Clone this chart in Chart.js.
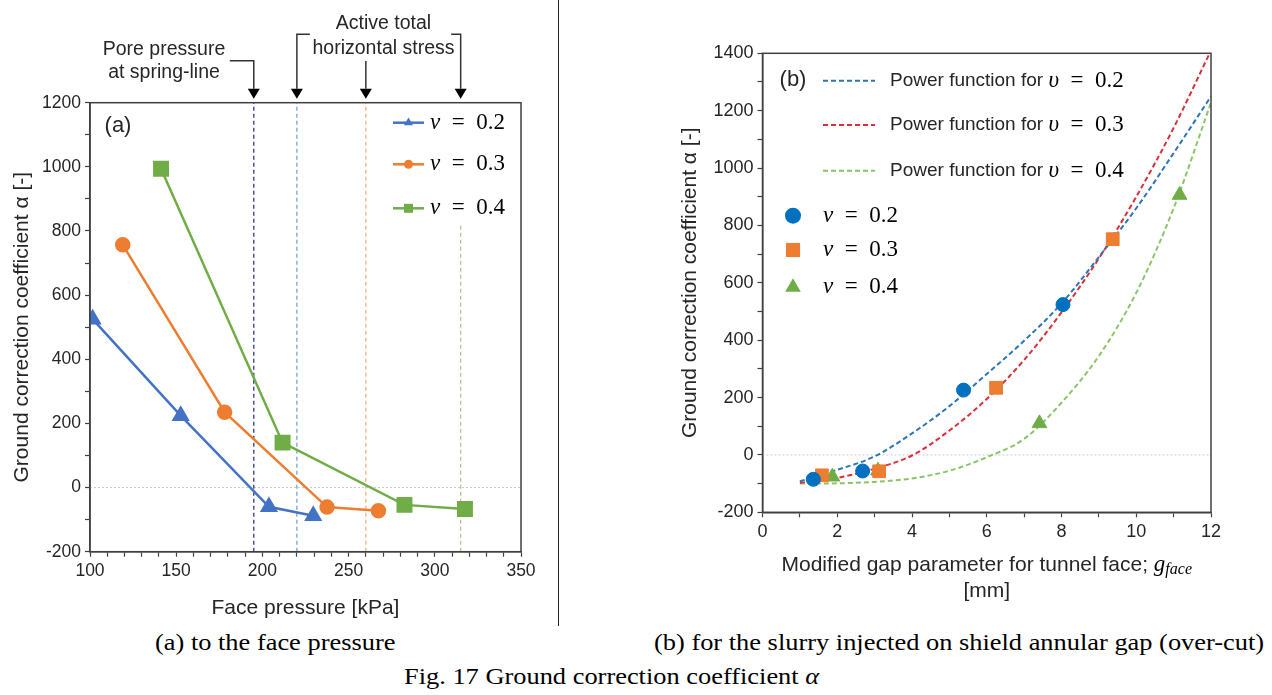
<!DOCTYPE html>
<html>
<head>
<meta charset="utf-8">
<script src="https://cdn.jsdelivr.net/npm/chart.js"></script>
<style>
  * { margin: 0; padding: 0; box-sizing: border-box; }
  body { width: 1272px; height: 695px; background: #fff; position: relative; overflow: hidden; }
  #left { position: absolute; left: 0; top: 0; }
  #right { position: absolute; left: 640px; top: 0; }
  .divider { position: absolute; left: 558px; top: 0; width: 1px; height: 626px; background: #222; }
  .caption {
    position: absolute; white-space: nowrap; color: #000;
    font-family: 'Liberation Serif', 'Times New Roman', serif; font-size: 24px;
    transform-origin: left center; transform: scaleX(1.1);
  }
</style>
</head>
<body>
<canvas id="left" width="556" height="626"></canvas>
<div class="divider"></div>
<canvas id="right" width="632" height="610"></canvas>
<div class="caption" style="left:155px; top:629px;">(a) to the face pressure</div>
<div class="caption" style="left:654px; top:629px;">(b) for the slurry injected on shield annular gap (over-cut)</div>
<div class="caption" style="left:404px; top:663px;">Fig. 17 Ground correction coefficient <i>α</i></div>

<script>
  // (a) ground correction coefficient vs face pressure [kPa]
  const pressNu02 = [101.5, 152.6, 203.8, 229.5];
  const alphaNu02 = [525, 224, -60, -88];
  const pressNu03 = [119, 178.1, 237.5, 267.3];
  const alphaNu03 = [757, 235, -61, -72];
  const pressNu04 = [141.2, 211.7, 282.4, 317.5];
  const alphaNu04 = [994, 140, -54, -67];
  // pore pressure at spring-line, then active total horizontal stress for v = 0.2 / 0.3 / 0.4
  const refPressure = [195, 220, 260, 315];
  const refTop = [1200, 1200, 1200, 825];

  // (b) ground correction coefficient vs modified gap parameter g_face [mm]
  const gapNu02 = [1.36, 2.68, 5.38, 8.04];
  const gapAlphaNu02 = [-85, -56, 226, 524];
  const gapNu03 = [1.59, 3.12, 6.25, 9.37];
  const gapAlphaNu03 = [-71, -57, 234, 752];
  const gapNu04 = [1.87, 3.09, 7.41, 11.16];
  const gapAlphaNu04 = [-76, -55, 110, 906];
  // power function curves
  const fitGap = [1, 2, 3, 4, 5, 6, 7, 8, 9, 10, 11, 12];
  const fitNu02 = [-92, -52, -5, 75, 170, 282, 398, 528, 690, 860, 1052, 1250];
  const fitNu03 = [-97, -80, -48, -2, 85, 195, 331, 497, 685, 900, 1140, 1410];
  const fitNu04 = [-100, -99, -94, -82, -55, -8, 56, 182, 345, 565, 860, 1228];

  const sans = "'Liberation Sans', Arial, sans-serif";
  const serif = "'Liberation Serif', 'Times New Roman', serif";
  const axisColor = '#404040';
  const textColor = '#262626';

  const pts = (xs, ys) => xs.map((x, i) => ({ x: x, y: ys[i] }));

  function linAxis(min, max, step, every, size) {
    return {
      type: 'linear', min: min, max: max,
      border: { color: axisColor, width: 1.5 },
      grid: { drawOnChartArea: false, color: axisColor, tickLength: 5, tickWidth: 1.2 },
      ticks: {
        stepSize: step, autoSkip: false, maxRotation: 0, padding: 4,
        color: textColor, font: { family: sans, size: size },
        callback: v => (Math.round(v) % every === 0 ? String(v) : '')
      }
    };
  }

  function marker(ctx, style, x, y, r, color) {
    ctx.save();
    ctx.fillStyle = color;
    ctx.beginPath();
    if (style === 'circle') {
      ctx.arc(x, y, r, 0, Math.PI * 2);
    } else if (style === 'rect') {
      const s = r * Math.SQRT1_2;
      ctx.rect(x - s, y - s, 2 * s, 2 * s);
    } else {
      ctx.moveTo(x, y - r);
      ctx.lineTo(x + r * 0.866, y + r * 0.5);
      ctx.lineTo(x - r * 0.866, y + r * 0.5);
      ctx.closePath();
    }
    ctx.fill();
    ctx.restore();
  }

  // italic greek symbol followed by " = 0.x"
  function mathText(ctx, x, y, sym, rest, size) {
    ctx.save();
    ctx.fillStyle = '#000';
    ctx.textBaseline = 'middle';
    ctx.textAlign = 'left';
    ctx.font = 'italic ' + size + 'px ' + serif;
    ctx.fillText(sym, x, y);
    const w = ctx.measureText(sym).width;
    ctx.font = size + 'px ' + serif;
    ctx.fillText(rest, x + w, y);
    ctx.restore();
  }

  const frame = {
    id: 'frame',
    afterDatasetsDraw(chart) {
      const { ctx, chartArea: a } = chart;
      ctx.save();
      ctx.strokeStyle = axisColor;
      ctx.lineWidth = 1.5;
      ctx.strokeRect(a.left, a.top, a.right - a.left, a.bottom - a.top);
      ctx.restore();
    }
  };

  // ---------- chart (a) ----------
  const blueA = '#4472C4', orangeA = '#ED7D31', greenA = '#70AD47';
  const refColors = ['#2b3a8c', '#74a2d6', '#f0b27a', '#ccb998'];

  const refSets = refPressure.map((p, i) => ({
    data: [{ x: p, y: -200 }, { x: p, y: refTop[i] }],
    showLine: true, borderColor: refColors[i], borderWidth: 1.3, borderDash: [4, 3],
    pointRadius: 0, order: 10
  }));

  const decoA = {
    id: 'decoA',
    afterDraw(chart) {
      const { ctx, chartArea: a, scales } = chart;
      const xs = refPressure.map(v => scales.x.getPixelForValue(v));
      ctx.save();
      // annotation brackets and arrows
      ctx.strokeStyle = '#333';
      ctx.fillStyle = '#000';
      ctx.lineWidth = 1.5;
      const tipY = a.top - 4, headY = a.top - 14;
      const paths = [
        [[xs[0] - 24, 60.7], [xs[0], 60.7], [xs[0], headY]],
        [[xs[1] + 13, 34.3], [xs[1], 34.3], [xs[1], headY]],
        [[xs[2], 61], [xs[2], headY]],
        [[xs[3] - 9.5, 34.3], [xs[3], 34.3], [xs[3], headY]]
      ];
      paths.forEach(pth => {
        ctx.beginPath();
        pth.forEach((p, i) => (i ? ctx.lineTo(p[0], p[1]) : ctx.moveTo(p[0], p[1])));
        ctx.stroke();
      });
      xs.forEach(x => {
        ctx.beginPath();
        ctx.moveTo(x - 6, headY);
        ctx.lineTo(x + 6, headY);
        ctx.lineTo(x, tipY);
        ctx.closePath();
        ctx.fill();
      });
      ctx.fillStyle = textColor;
      ctx.font = '19.5px ' + sans;
      ctx.textAlign = 'center';
      ctx.textBaseline = 'middle';
      ctx.fillText('Pore pressure', 164, 49.3);
      ctx.fillText('at spring-line', 164, 72.7);
      ctx.fillText('Active total', 383.5, 24);
      ctx.fillText('horizontal stress', 383.5, 48.3);

      // panel label
      ctx.font = '22px ' + sans;
      ctx.fillText('(a)', a.left + 28, a.top + 23);

      // legend
      const rows = [
        [blueA, 'triangle', 7, '0.2', 20],
        [orangeA, 'circle', 6, '0.3', 61.6],
        [greenA, 'rect', 8.5, '0.4', 105.6]
      ];
      rows.forEach(r => {
        const y = a.top + r[4];
        ctx.strokeStyle = r[0];
        ctx.lineWidth = 2.5;
        ctx.beginPath();
        ctx.moveTo(a.right - 128, y);
        ctx.lineTo(a.right - 97, y);
        ctx.stroke();
        marker(ctx, r[1], a.right - 112.5, y, r[2] * 0.75, r[0]);
        mathText(ctx, a.right - 91, y, 'ν', '\u2002=\u2002' + r[3], 23);
      });
      ctx.restore();
    }
  };

  const axA_x = linAxis(100, 350, 10, 50, 17.5);
  axA_x.afterFit = s => { s.height = 74.3; };
  axA_x.title = { display: true, text: 'Face pressure [kPa]', color: textColor,
    font: { family: sans, size: 21 }, padding: { top: 0, bottom: 5.4 } };
  const axA_y = linAxis(-200, 1200, 100, 200, 17.5);
  axA_y.afterFit = s => { s.width = 90; };
  axA_y.title = { display: true, text: 'Ground correction coefficient α [-]', color: textColor,
    font: { family: sans, size: 21 }, padding: { top: 9.4, bottom: 0 } };

  new Chart(document.getElementById('left'), {
    type: 'scatter',
    data: {
      datasets: [
        { label: 'ν = 0.2', data: pts(pressNu02, alphaNu02), showLine: true,
          borderColor: blueA, backgroundColor: blueA, borderWidth: 2.5,
          pointStyle: 'triangle', pointRadius: 8, order: 0 },
        { label: 'ν = 0.3', data: pts(pressNu03, alphaNu03), showLine: true,
          borderColor: orangeA, backgroundColor: orangeA, borderWidth: 2.5,
          pointStyle: 'circle', pointRadius: 6.5, order: 0 },
        { label: 'ν = 0.4', data: pts(pressNu04, alphaNu04), showLine: true,
          borderColor: greenA, backgroundColor: greenA, borderWidth: 2.5,
          pointStyle: 'rect', pointRadius: 9.5, order: 0 },
        ...refSets,
        { data: [{ x: 100, y: 0 }, { x: 350, y: 0 }], showLine: true,
          borderColor: '#c8c8c8', borderWidth: 1, borderDash: [2, 2], pointRadius: 0, order: 11 }
      ]
    },
    options: {
      responsive: false, animation: false, events: [],
      layout: { padding: { top: 102.7, right: 35, bottom: 0, left: 0 } },
      plugins: { legend: { display: false }, tooltip: { enabled: false } },
      scales: { x: axA_x, y: axA_y }
    },
    plugins: [frame, decoA]
  });

  // ---------- chart (b) ----------
  const blueB = '#0070C0', orangeB = '#ED7D31', greenB = '#70AD47';
  const fitBlue = '#2E75B6', fitRed = '#D9303A', fitGreen = '#8CC46A';

  const decoB = {
    id: 'decoB',
    afterDraw(chart) {
      const { ctx, chartArea: a } = chart;
      ctx.save();
      ctx.fillStyle = textColor;
      ctx.textBaseline = 'middle';
      ctx.textAlign = 'center';
      ctx.font = '22px ' + sans;
      ctx.fillText('(b)', a.left + 30.5, a.top + 26.7);

      const fits = [[fitBlue, '0.2', 27.4], [fitRed, '0.3', 71.7], [fitGreen, '0.4', 117.4]];
      fits.forEach(f => {
        const y = a.top + f[2];
        ctx.strokeStyle = f[0];
        ctx.lineWidth = 2;
        ctx.setLineDash([5, 3]);
        ctx.beginPath();
        ctx.moveTo(a.left + 60.5, y);
        ctx.lineTo(a.left + 112.5, y);
        ctx.stroke();
        ctx.setLineDash([]);
        ctx.font = '19px ' + sans;
        ctx.textAlign = 'left';
        ctx.fillStyle = textColor;
        const label = 'Power function for ';
        ctx.fillText(label, a.left + 127.5, y);
        const w = ctx.measureText(label).width;
        mathText(ctx, a.left + 127.5 + w, y, 'υ', '\u2002=\u2002' + f[1], 23);
      });

      const marks = [[blueB, 'circle', 8, '0.2', 162.4], [orangeB, 'rect', 10, '0.3', 196.7],
                     [greenB, 'triangle', 9, '0.4', 234]];
      marks.forEach(m => {
        const y = a.top + m[4];
        marker(ctx, m[1], a.left + 30.5, y, m[2], m[0]);
        mathText(ctx, a.left + 60.5, y, 'ν', '\u2002=\u2002' + m[3], 23);
      });

      // x axis title with italic g_face
      const cx = (a.left + a.right) / 2;
      const main = 'Modified gap parameter for tunnel face; ';
      ctx.font = '21px ' + sans;
      const w1 = ctx.measureText(main).width;
      ctx.font = 'italic 23px ' + serif;
      const w2 = ctx.measureText('g').width;
      ctx.font = 'italic 16px ' + serif;
      const w3 = ctx.measureText('face').width;
      let x = cx - (w1 + w2 + w3) / 2;
      const ty = 565;
      ctx.textAlign = 'left';
      ctx.fillStyle = textColor;
      ctx.font = '21px ' + sans;
      ctx.fillText(main, x, ty);
      ctx.fillStyle = '#000';
      ctx.font = 'italic 23px ' + serif;
      ctx.fillText('g', x + w1, ty);
      ctx.font = 'italic 16px ' + serif;
      ctx.fillText('face', x + w1 + w2, ty + 5);
      ctx.fillStyle = textColor;
      ctx.textAlign = 'center';
      ctx.font = '21px ' + sans;
      ctx.fillText('[mm]', cx, 591.7);
      ctx.restore();
    }
  };

  const axB_x = linAxis(0, 12, 1, 2, 18);
  axB_x.afterFit = s => { s.height = 97.7; };
  const axB_y = linAxis(-200, 1400, 100, 200, 18);
  axB_y.afterFit = s => { s.width = 122.5; };
  axB_y.title = { display: true, text: 'Ground correction coefficient α [-]', color: textColor,
    font: { family: sans, size: 21 }, padding: { top: 37.4, bottom: 0 } };

  const fitSet = (ys, color) => ({
    data: pts(fitGap, ys), showLine: true, borderColor: color, borderWidth: 2,
    borderDash: [5, 3], pointRadius: 0, cubicInterpolationMode: 'monotone', order: 5
  });

  new Chart(document.getElementById('right'), {
    type: 'scatter',
    data: {
      datasets: [
        { label: 'ν = 0.2', data: pts(gapNu02, gapAlphaNu02), backgroundColor: blueB,
          borderColor: blueB, pointStyle: 'circle', pointRadius: 7, order: 0 },
        { label: 'ν = 0.3', data: pts(gapNu03, gapAlphaNu03), backgroundColor: orangeB,
          borderColor: orangeB, pointStyle: 'rect', pointRadius: 9, order: 0 },
        { label: 'ν = 0.4', data: pts(gapNu04, gapAlphaNu04), backgroundColor: greenB,
          borderColor: greenB, pointStyle: 'triangle', pointRadius: 8.5, order: 0 },
        Object.assign(fitSet(fitNu02, fitBlue), { label: 'Power function for υ = 0.2' }),
        Object.assign(fitSet(fitNu03, fitRed), { label: 'Power function for υ = 0.3' }),
        Object.assign(fitSet(fitNu04, fitGreen), { label: 'Power function for υ = 0.4' }),
        { data: [{ x: 0, y: 0 }, { x: 12, y: 0 }], showLine: true,
          borderColor: '#c8c8c8', borderWidth: 1, borderDash: [2, 2], pointRadius: 0, order: 11 }
      ]
    },
    options: {
      responsive: false, animation: false, events: [],
      layout: { padding: { top: 53.3, right: 61, bottom: 0, left: 0 } },
      plugins: { legend: { display: false }, tooltip: { enabled: false } },
      scales: { x: axB_x, y: axB_y }
    },
    plugins: [frame, decoB]
  });
</script>
</body>
</html>
